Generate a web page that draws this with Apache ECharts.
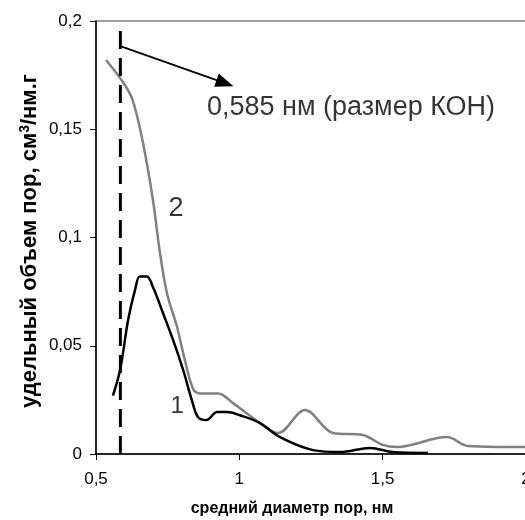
<!DOCTYPE html>
<html>
<head>
<meta charset="utf-8">
<script src="https://cdn.jsdelivr.net/npm/echarts@6/dist/echarts.min.js"></script>
<style>
 html, body { margin: 0; padding: 0; background: #fff; }
 #graph { width: 525px; height: 520px; }
</style>
</head>
<body>
<div id="graph"></div>
<script>
 // curve 1 (black)
 var x1 = [0.559, 0.584, 0.612, 0.636, 0.653, 0.677, 0.699, 0.734, 0.769, 0.804, 0.834, 0.856, 0.886, 0.922, 0.957, 1.0, 1.072, 1.142, 1.257, 1.351, 1.456, 1.536, 1.658];
 var y1 = [0.027, 0.0388, 0.0619, 0.0757, 0.082, 0.082, 0.077, 0.065, 0.0526, 0.0388, 0.025, 0.017, 0.0157, 0.0194, 0.0194, 0.018, 0.0143, 0.0078, 0.0018, 0.0009, 0.0028, 0.0009, 0.0005];

 // curve 2 (grey)
 var x2 = [0.535, 0.598, 0.629, 0.664, 0.699, 0.723, 0.748, 0.782, 0.81, 0.839, 0.863, 0.926, 0.978, 1.072, 1.135, 1.229, 1.327, 1.431, 1.5, 1.55, 1.724, 1.798, 2.0];
 var y2 = [0.182, 0.171, 0.163, 0.1436, 0.117, 0.093, 0.074, 0.059, 0.0434, 0.030, 0.028, 0.028, 0.0235, 0.0143, 0.0097, 0.0203, 0.0097, 0.0088, 0.0042, 0.0032, 0.0078, 0.0037, 0.0032];

 // KOH size marker
 var kohX = 0.585;
 var kohTop = 0.198;
 var arrowFrom = [0.585, 0.1884];
 var arrowTo = [0.95, 0.1713];

 // text annotations
 var noteX = [0.887, 0.779, 0.783];
 var noteY = [0.16, 0.1136, 0.0222];
 var noteText = ["0,585 нм (размер КОН)", "2", "1"];

 var xTicks = ["0,5", "1", "1,5", "2"];
 var yTicks = ["0", "0,05", "0,1", "0,15", "0,2"];

 function pairs(xs, ys) {
  var d = [];
  for (var i = 0; i < xs.length; i++) d.push([xs[i], ys[i]]);
  return d;
 }

 var font = "'Liberation Sans', Arial, sans-serif";
 var noteSize = [27, 27, 24];
 var noteAlign = ["left", "center", "center"];

 var notes = [];
 for (var i = 0; i < noteText.length; i++) {
  notes.push({
   value: [noteX[i], noteY[i]],
   name: noteText[i],
   label: { fontSize: noteSize[i], align: noteAlign[i] }
  });
 }

 var chart = echarts.init(document.getElementById("graph"));
 var option = {
  animation: false,
  grid: {
   left: 96, top: 21, right: -1, bottom: 66,
   outerBoundsMode: "none", containLabel: false,
   show: true, borderColor: "#808080", borderWidth: 1.5
  },
  xAxis: {
   type: "value", min: 0.5, max: 2, interval: 0.5,
   axisLine: { onZero: false, lineStyle: { color: "#000", width: 1.5 } },
   axisTick: { show: true, length: 6, lineStyle: { color: "#000" } },
   splitLine: { show: false },
   axisLabel: {
    margin: 17, color: "#000", fontSize: 17, fontFamily: font,
    formatter: function(v, idx) { return xTicks[idx]; }
   }
  },
  yAxis: {
   type: "value", min: 0, max: 0.2, interval: 0.05,
   axisLine: { show: true, lineStyle: { color: "#000", width: 1.5 } },
   axisTick: { show: true, length: 6, lineStyle: { color: "#000" } },
   splitLine: { show: false },
   axisLabel: {
    margin: 14, color: "#000", fontSize: 17, fontFamily: font,
    formatter: function(v, idx) { return yTicks[idx]; }
   }
  },
  graphic: [
   {
    type: "text", x: 292, y: 509,
    style: {
     text: "средний диаметр пор, нм", fill: "#000",
     font: "bold 16px " + font, textAlign: "center", textVerticalAlign: "middle"
    }
   },
   {
    type: "text", x: 30, y: 241, rotation: Math.PI / 2,
    style: {
     rich: {
      b: { font: "bold 22px " + font, fill: "#000" },
      s: { font: "bold 14px " + font, fill: "#000", padding: [0, 0, 10, 0] }
     },
     text: "{b|удельный объем пор, см}{s|3}{b|/нм.г}",
     textAlign: "center", textVerticalAlign: "middle"
    }
   }
  ],
  series: [
   {
    type: "line", data: pairs(x2, y2), smooth: 0.35, symbol: "none",
    lineStyle: { color: "#808080", width: 2.5 }, z: 3
   },
   {
    type: "line", data: pairs(x1, y1), smooth: 0.35, symbol: "none",
    lineStyle: { color: "#000", width: 2.5 }, z: 4
   },
   {
    type: "line", data: [[kohX, 0], [kohX, kohTop]], symbol: "none",
    lineStyle: { color: "#000", width: 3, type: [18, 9] }, z: 5,
    markLine: {
     silent: true, symbol: ["none", "triangle"], symbolSize: [14, 18],
     label: { show: false },
     lineStyle: { color: "#000", width: 1.8, type: "solid" },
     data: [[{ coord: arrowFrom }, { coord: arrowTo }]]
    }
   },
   {
    type: "scatter", symbolSize: 0, data: notes,
    label: {
     show: true, position: "inside", color: "#000", fontFamily: font,
     formatter: function(p) { return p.name; }
    }
   }
  ]
 };
 chart.setOption(option);
</script>
</body>
</html>
